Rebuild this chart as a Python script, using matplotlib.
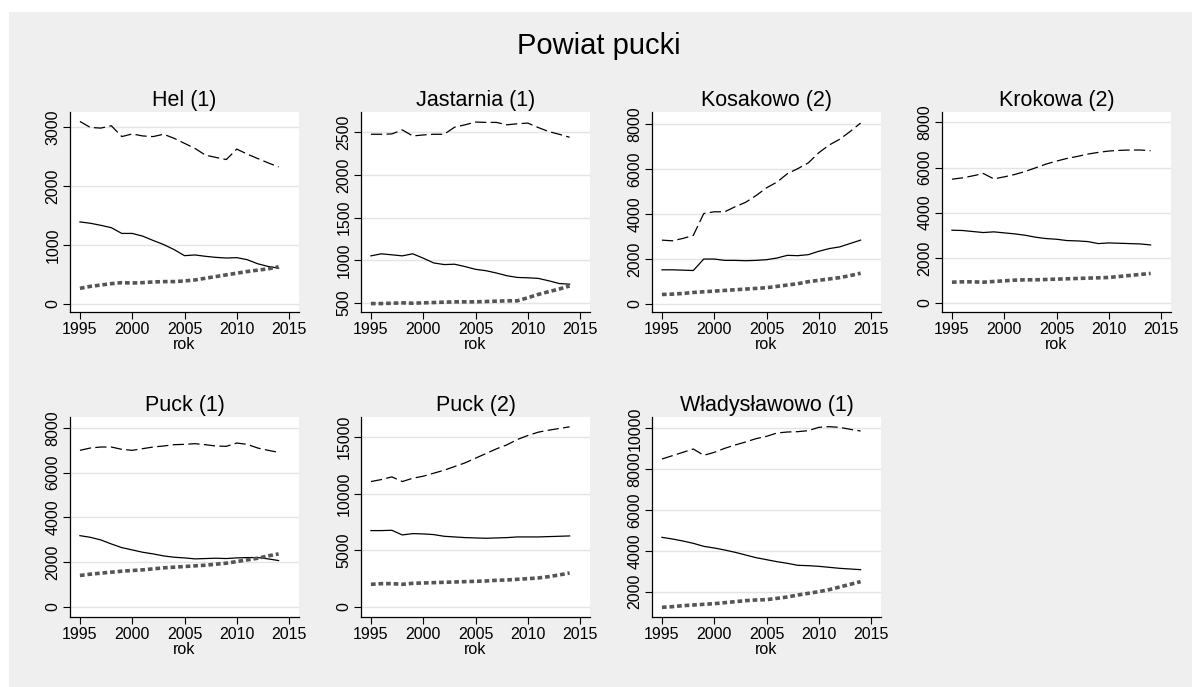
import matplotlib
matplotlib.use("Agg")
import matplotlib.pyplot as plt
import numpy as np

plt.rcParams['font.family'] = ['Liberation Sans', 'DejaVu Sans']

years = list(range(1995, 2015))

panels = ["Hel (1)", "Jastarnia (1)", "Kosakowo (2)", "Krokowa (2)",
          "Puck (1)", "Puck (2)", "Władysławowo (1)"]

# dashed series
dashed = {
    "Hel (1)": [3103, 3000, 2990, 3030, 2845, 2890, 2856, 2845, 2885, 2816,
                2730, 2644, 2529, 2490, 2454, 2632, 2546, 2471, 2397, 2328],
    "Jastarnia (1)": [2476, 2476, 2480, 2527, 2456, 2468, 2476, 2476, 2559, 2587,
                      2619, 2615, 2615, 2587, 2599, 2607, 2555, 2508, 2476, 2441],
    "Kosakowo (2)": [2838, 2808, 2913, 3048, 4024, 4099, 4099, 4324, 4520, 4820,
                     5165, 5420, 5796, 6021, 6276, 6727, 7072, 7327, 7673, 8048],
    "Krokowa (2)": [5483, 5542, 5632, 5736, 5498, 5587, 5691, 5825, 5988, 6152,
                    6285, 6404, 6493, 6597, 6671, 6731, 6761, 6776, 6776, 6746],
    "Puck (1)": [6998, 7102, 7147, 7147, 7043, 6998, 7073, 7147, 7192, 7251,
                 7266, 7296, 7251, 7192, 7177, 7325, 7266, 7102, 6998, 6909],
    "Puck (2)": [11062, 11239, 11475, 11062, 11357, 11534, 11799, 12065, 12389, 12714,
                 13127, 13540, 13953, 14307, 14779, 15133, 15428, 15605, 15752, 15900],
    "Władysławowo (1)": [8498, 8661, 8824, 8988, 8678, 8824, 9020, 9184, 9331, 9494,
                         9608, 9771, 9820, 9837, 9886, 10049, 10082, 10049, 9951, 9869],
}

# solid series
solid = {
    "Hel (1)": [1391, 1368, 1333, 1293, 1195, 1195, 1149, 1075, 1006, 920,
                816, 828, 805, 787, 776, 782, 747, 678, 632, 603],
    "Jastarnia (1)": [1051, 1075, 1063, 1051, 1075, 1024, 968, 949, 953, 925,
                      893, 877, 850, 818, 798, 794, 787, 759, 727, 719],
    "Kosakowo (2)": [1517, 1517, 1502, 1486, 1997, 1997, 1937, 1937, 1922, 1937,
                     1967, 2042, 2162, 2147, 2192, 2342, 2462, 2537, 2688, 2838],
    "Krokowa (2)": [3224, 3210, 3165, 3120, 3150, 3105, 3061, 3001, 2912, 2853,
                    2823, 2764, 2749, 2719, 2630, 2660, 2645, 2630, 2615, 2571],
    "Puck (1)": [3180, 3105, 2987, 2808, 2645, 2541, 2437, 2363, 2273, 2214,
                 2184, 2140, 2155, 2169, 2155, 2184, 2199, 2199, 2140, 2065],
    "Puck (2)": [6726, 6726, 6755, 6342, 6460, 6431, 6372, 6224, 6165, 6106,
                 6077, 6047, 6077, 6106, 6165, 6165, 6165, 6195, 6224, 6254],
    "Władysławowo (1)": [4661, 4580, 4482, 4367, 4220, 4139, 4041, 3927, 3796, 3665,
                         3567, 3469, 3388, 3290, 3273, 3241, 3192, 3143, 3110, 3078],
}

# dotted (thick grey) series
dotted = {
    "Hel (1)": [259, 293, 316, 339, 356, 350, 356, 368, 374, 374,
                385, 402, 431, 460, 489, 517, 546, 569, 592, 626],
    "Jastarnia (1)": [492, 492, 496, 500, 496, 500, 504, 508, 512, 512,
                      512, 516, 520, 524, 524, 560, 599, 631, 662, 698],
    "Kosakowo (2)": [420, 435, 465, 510, 540, 570, 600, 630, 660, 690,
                     720, 780, 840, 900, 990, 1050, 1110, 1170, 1260, 1366],
    "Krokowa (2)": [921, 936, 936, 921, 951, 981, 1010, 1025, 1025, 1040,
                    1055, 1070, 1085, 1100, 1114, 1129, 1174, 1218, 1263, 1308],
    "Puck (1)": [1397, 1456, 1501, 1545, 1590, 1620, 1649, 1694, 1738, 1768,
                 1798, 1828, 1857, 1902, 1947, 2021, 2095, 2169, 2273, 2363],
    "Puck (2)": [1976, 2035, 2035, 1976, 2065, 2094, 2124, 2153, 2183, 2212,
                 2242, 2271, 2330, 2360, 2419, 2478, 2537, 2655, 2802, 2979],
    "Władysławowo (1)": [1233, 1265, 1314, 1347, 1380, 1412, 1461, 1510, 1559, 1592,
                         1608, 1673, 1739, 1837, 1918, 2000, 2098, 2229, 2359, 2490],
}

yticks = {
    "Hel (1)": [0, 1000, 2000, 3000],
    "Jastarnia (1)": [500, 1000, 1500, 2000, 2500],
    "Kosakowo (2)": [0, 2000, 4000, 6000, 8000],
    "Krokowa (2)": [0, 2000, 4000, 6000, 8000],
    "Puck (1)": [0, 2000, 4000, 6000, 8000],
    "Puck (2)": [0, 5000, 10000, 15000],
    "Władysławowo (1)": [2000, 4000, 6000, 8000, 10000],
}
xticks = [1995, 2000, 2005, 2010, 2015]

# layout (pixels) and axis ranges
ylims = {
    "Hel (1)": (-144, 3264),
    "Jastarnia (1)": (393, 2737),
    "Kosakowo (2)": (-360, 8540),
    "Krokowa (2)": (-401, 8461),
    "Puck (1)": (-461, 8490),
    "Puck (2)": (-914, 16770),
    "Władysławowo (1)": (759, 10555),
}
W, H = 1192, 687
col_left = [70, 361, 652, 942]
row_top = [112, 417]
aw, ah = 229, 200

fig = plt.figure(figsize=(W / 100, H / 100), dpi=100)
fig.patch.set_facecolor('white')
bg = plt.Rectangle((9 / W, 0), 1 - 9 / W, 1 - 12 / H, transform=fig.transFigure,
                   facecolor='#efefef', edgecolor='none', zorder=-10)
fig.patches.append(bg)

fig.text(0.5025, 1 - 46 / H, "Powiat pucki", ha='center', va='center', fontsize=21)

for i, name in enumerate(panels):
    r, c = divmod(i, 4)
    left = col_left[c] / W
    bottom = 1 - (row_top[r] + ah) / H
    ax = fig.add_axes([left, bottom, aw / W, ah / H])
    ax.set_facecolor('white')

    ax.plot(years, dashed[name], color='black', lw=0.9, linestyle=(0, (9, 3.5)))
    ax.plot(years, solid[name], color='black', lw=0.9)
    ax.plot(years, dotted[name], color='#555555', lw=2.6, linestyle=(0, (1.3, 0.8)))

    ax.set_xlim(1994.05, 2015.95)
    ax.set_ylim(*ylims[name])
    ax.set_xticks(xticks)
    ax.set_yticks(yticks[name])
    ax.set_yticklabels([str(v) for v in yticks[name]], rotation=90, va='center')
    ax.yaxis.grid(True, color='#e4e4e4', lw=1.0)
    ax.set_axisbelow(True)
    ax.tick_params(axis='both', labelsize=11.5, length=5, width=0.8, pad=2)
    for s in ['top', 'right']:
        ax.spines[s].set_visible(False)
    for s in ['left', 'bottom']:
        ax.spines[s].set_linewidth(0.9)
    ax.set_title(name, fontsize=15.5, pad=4)
    ax.set_xlabel("rok", fontsize=11.5, labelpad=0)

fig.savefig("out.png", dpi=100)
